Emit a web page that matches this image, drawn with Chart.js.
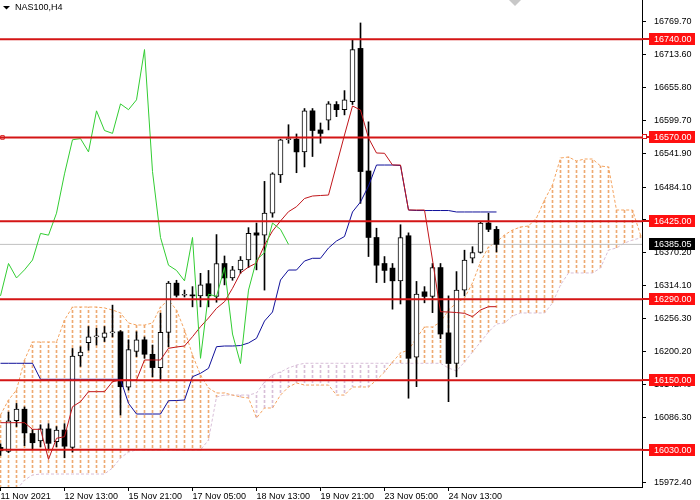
<!DOCTYPE html>
<html>
<head>
<meta charset="utf-8">
<script src="https://cdn.jsdelivr.net/npm/chart.js@4.4.1/dist/chart.umd.min.js"></script>
<style>
  html, body { margin: 0; padding: 0; background: #fff; }
  canvas { display: block; }
</style>
</head>
<body>
<canvas id="chart" width="700" height="500" style="width:700px;height:500px"></canvas>
<script>
// time axis labels, every 8th H4 bar
const xLabels = ["11 Nov 2021", "12 Nov 13:00", "15 Nov 21:00", "17 Nov 05:00",
                 "18 Nov 13:00", "19 Nov 21:00", "23 Nov 05:00", "24 Nov 13:00"];
const xTickBars = [0, 8, 16, 24, 32, 40, 48, 56];

// price axis ticks
const yTicks = [16769.70, 16713.60, 16655.80, 16599.70, 16541.90, 16484.10, 16428.00,
                16370.20, 16314.10, 16256.30, 16200.20, 16142.40, 16086.30, 16028.50, 15972.40];

// horizontal levels and last price
const levels = [16740, 16570, 16425, 16290, 16150, 16030];
const lastPrice = 16385.05;

// NAS100 H4 candles
const opens  = [16034,16027,16080,16100,16058,16045,16066,16044,16064,16034,
                16192,16215,16225,16224,16232,16234,16138,16200,16220,16195,
                16172,16233,16318,16297,16297,16296,16317,16295,16352,16327,
                16341,16358,16405,16401,16439,16505,16566,16567,16545,16616,
                16583,16600,16627,16618,16632,16724,16512,16397,16352,16344,
                16322,16400,16190,16303,16295,16345,16232,16179,16306,16361,
                16371,16422,16411];
const highs  = [16040,16095,16110,16104,16065,16073,16075,16070,16075,16205,
                16208,16243,16240,16243,16280,16236,16220,16234,16225,16211,
                16266,16321,16323,16306,16312,16335,16340,16402,16365,16347,
                16364,16414,16422,16494,16509,16567,16592,16576,16620,16620,
                16595,16632,16632,16651,16738,16768,16597,16413,16364,16352,
                16419,16405,16321,16312,16352,16352,16296,16338,16375,16381,
                16424,16439,16416];
const lows   = [16020,16025,16070,16037,16030,16035,16030,16035,16016,16026,
                16174,16202,16211,16217,16225,16090,16133,16191,16188,16156,
                16150,16208,16294,16294,16277,16277,16277,16285,16315,16323,
                16335,16345,16341,16306,16432,16492,16560,16509,16519,16537,
                16560,16583,16606,16609,16627,16456,16364,16319,16319,16273,
                16282,16119,16139,16284,16267,16222,16113,16156,16296,16353,
                16370,16407,16372];
const closes = [16028,16080,16100,16059,16042,16066,16041,16064,16036,16192,
                16199,16225,16226,16232,16233,16139,16203,16220,16195,16172,
                16233,16318,16297,16298,16296,16315,16296,16352,16327,16341,
                16358,16404,16401,16439,16507,16566,16568,16545,16616,16582,
                16577,16628,16618,16635,16722,16511,16397,16349,16340,16322,
                16397,16188,16299,16295,16345,16230,16179,16306,16358,16371,
                16422,16411,16385.05];

// Ichimoku lines
const tenkan = [16076.7,16076.7,16076.7,16076.7,16065.2,16065.2,16013.3,16049.7,16052.4,16104.3,
                16113.0,16130.3,16130.3,16130.3,16147.6,16150.5,16150.5,16150.5,16185.1,16185.1,
                16185.1,16205.3,16207.6,16209.3,16225.4,16242.7,16257.7,16274.5,16285.9,16309.1,
                16335.6,16345.9,16352.8,16384.0,16408.2,16425.5,16441.6,16450.2,16464.4,16468.7,
                16469.6,16470.4,16522.3,16574.2,16624.4,16617.5,16569.0,16543.1,16542.6,16522.3,
                16522.3,16444.5,16444.5,16444.5,16358.0,16268.6,16268.1,16267.2,16265.8,16260.0,
                16271.6,16277.3,16277.3];
const kijun  = [16179.4,16179.4,16179.4,16179.4,16179.4,16151.7,16151.7,16151.7,16151.7,16151.7,
                16151.7,16151.7,16151.7,16151.7,16151.7,16151.7,16110.2,16091.7,16091.7,16091.7,
                16091.7,16114.7,16115.0,16115.9,16156.2,16162.1,16170.7,16208.1,16209.3,16209.3,
                16210.1,16214.5,16222.6,16252.5,16268.1,16323.4,16340.7,16340.7,16356.3,16361.0,
                16361.0,16378.8,16390.9,16398.7,16441.1,16458.4,16486.0,16522.3,16522.3,16522.3,
                16521.5,16444.5,16443.6,16443.6,16443.6,16443.6,16443.6,16441.1,16441.1,16441.1,
                16441.1,16441.1,16441.1];
const spanA  = [16089.9,16115.9,16133.2,16185.1,16216.2,16216.2,16216.2,16216.2,16254.3,16276.7,
                16276.7,16276.7,16276.7,16275.0,16271.6,16266.4,16249.1,16245.6,16245.6,16249.1,
                16276.7,16288.9,16271.6,16237.0,16193.7,16159.1,16136.7,16128.0,16128.0,16124.5,
                16121.1,16119.4,16084.8,16102.1,16102.1,16124.5,16138.4,16145.3,16141.8,16141.8,
                16141.8,16141.8,16124.5,16124.5,16138.4,16138.4,16138.4,16150.5,16164.3,16181.6,
                16197.2,16202.4,16223.1,16242.2,16242.2,16250.8,16271.6,16283.7,16292.3,16318.3,
                16354.6,16380.5,16389.2,16401.3,16409.9,16415.1,16416.8,16430.7,16461.8,16487.8,
                16534.4,16536.2,16529.2,16532.7,16532.7,16520.6,16518.9,16444.5,16444.5,16444.5,
                16401.3];
const spanB  = [15942.9,15948.1,15960.2,15977.5,15986.2,15987.9,15987.9,15987.9,15987.9,15987.9,
                15987.9,15987.9,15987.9,15987.9,15998.3,16015.6,16026.0,16029.5,16029.5,16029.5,
                16029.5,16029.5,16029.5,16029.5,16029.5,16029.5,16046.7,16121.1,16124.5,16124.5,
                16124.5,16124.5,16128.0,16147.0,16159.1,16164.3,16171.2,16176.4,16179.4,16179.4,
                16179.4,16179.4,16179.4,16179.4,16179.4,16179.4,16179.4,16179.4,16179.4,16179.4,
                16179.4,16179.4,16179.4,16179.4,16179.4,16179.4,16171.2,16166.1,16181.6,16198.9,
                16216.2,16233.5,16247.4,16249.1,16261.2,16266.4,16266.4,16266.4,16266.4,16283.7,
                16314.8,16335.6,16335.6,16335.6,16335.6,16344.2,16375.3,16378.8,16387.4,16392.6,
                16396.1];
const chikouShift = 26;

const X_MIN = -0.0625;          // half a pixel so 1px marks sit on whole pixels
const X_MAX = X_MIN + 642 / 8;  // 8 px per bar
const Y_MIN = 15965.45, Y_MAX = 16807.7;

const LEVEL_RED = '#d41515';
const SANDY = '#f4a460', THISTLE = '#d8bfd8';
const FONT = '"Liberation Sans", Arial, sans-serif';

let canvas = document.getElementById('chart');
let ctx0 = canvas.getContext('2d');

function hatch(color) {
    let c = document.createElement('canvas');
    c.width = 1; c.height = 5;
    let g = c.getContext('2d');
    g.fillStyle = color;
    g.fillRect(0, 0, 1, 3);
    return ctx0.createPattern(c, 'repeat');
}
let sandyHatch = hatch('#eeaa72');
let thistleHatch = hatch(THISTLE);

let up = i => closes[i] >= opens[i];
let pts = arr => arr.map((v, i) => ({ x: i, y: v }));
let flat = v => [{ x: X_MIN, y: v }, { x: X_MAX, y: v }];

let datasets = [];

// horizontal levels on top
levels.forEach(v => {
    datasets.push({ type: 'line', data: flat(v), borderColor: LEVEL_RED, borderWidth: 2,
                    pointRadius: 0, order: 0 });
});

// selection handle at the left end of the 16570 line
datasets.push({ type: 'scatter', data: [{ x: X_MIN + 2.5 / 8, y: 16570 }], pointStyle: 'rect',
                pointRadius: 2.5, backgroundColor: '#fff', borderColor: LEVEL_RED, borderWidth: 1,
                order: 0, clip: false });

datasets.push({ type: 'line', label: 'Chikou', data: pts(closes.slice(chikouShift)),
                borderColor: '#32cd32', borderWidth: 1, pointRadius: 0, order: 1 });
datasets.push({ type: 'line', label: 'Tenkan', data: pts(tenkan),
                borderColor: '#c0161b', borderWidth: 1, pointRadius: 0, order: 1 });
datasets.push({ type: 'line', label: 'Kijun', data: pts(kijun),
                borderColor: '#10109a', borderWidth: 1, pointRadius: 0, order: 1 });

// candle bodies
datasets.push({ type: 'bar', label: 'Body',
                data: opens.map((o, i) => ({ x: i, y: [o, closes[i]] })),
                backgroundColor: c => up(c.dataIndex) ? '#ffffff' : '#000000',
                borderColor: '#000000',
                borderWidth: c => up(c.dataIndex) ? 1 : 0,
                borderSkipped: false, barThickness: 5, minBarLength: 1,
                grouped: false, order: 2 });
// wicks
datasets.push({ type: 'bar', label: 'Wick',
                data: lows.map((l, i) => ({ x: i, y: [l, highs[i]] })),
                backgroundColor: '#000000', borderWidth: 0, barThickness: 1,
                grouped: false, order: 3 });

datasets.push({ type: 'line', label: 'Bid', data: flat(lastPrice), borderColor: '#c0c0c0',
                borderWidth: 1, pointRadius: 0, order: 4 });

datasets.push({ type: 'line', label: 'Span A', data: pts(spanA), borderColor: SANDY,
                borderDash: [3, 2], borderWidth: 1, pointRadius: 0, order: 5 });
datasets.push({ type: 'line', label: 'Span B', data: pts(spanB), borderColor: THISTLE,
                borderDash: [3, 2], borderWidth: 1, pointRadius: 0, order: 5 });

// cloud hatching
datasets.push({ type: 'bar', label: 'Cloud',
                data: spanA.map((a, i) => ({ x: i, y: [a, spanB[i]] })),
                backgroundColor: c => spanA[c.dataIndex] >= spanB[c.dataIndex] ? sandyHatch : thistleHatch,
                borderWidth: 0, barThickness: 1, grouped: false, order: 6 });

// title, axis price labels, markers
let overlay = {
    id: 'overlay',
    afterDraw(chart) {
        let ctx = chart.ctx;
        let ys = chart.scales.y;
        let area = chart.chartArea;
        ctx.save();

        ctx.fillStyle = '#000';
        ctx.beginPath();
        ctx.moveTo(3, 6); ctx.lineTo(10, 6); ctx.lineTo(6.5, 9.5);
        ctx.closePath(); ctx.fill();
        ctx.font = '9px ' + FONT;
        ctx.textBaseline = 'middle';
        ctx.textAlign = 'left';
        ctx.fillText('NAS100,H4', 15, 8);

        // chart shift marker
        ctx.fillStyle = '#c8c8c8';
        ctx.beginPath();
        ctx.moveTo(area.left + 509, 0); ctx.lineTo(area.left + 521, 0); ctx.lineTo(area.left + 515, 6);
        ctx.closePath(); ctx.fill();

        let boxL = area.right + 7;
        levels.forEach(v => {
            let py = Math.round(ys.getPixelForValue(v));
            ctx.fillStyle = LEVEL_RED;
            ctx.fillRect(area.right, py - 1, boxL - area.right, 2);
            ctx.fillStyle = '#ff1010';
            ctx.fillRect(boxL, py - 6, 46, 12);
            ctx.fillStyle = '#fff';
            ctx.fillText(v.toFixed(2), boxL + 5, py + 0.5);
        });

        let pp = Math.round(ys.getPixelForValue(lastPrice));
        ctx.fillStyle = '#000';
        ctx.fillRect(boxL, pp - 6, 46, 12);
        ctx.fillStyle = '#fff';
        ctx.fillText(lastPrice.toFixed(2), boxL + 5, pp + 0.5);

        // right end handle of 16570 line
        let sy = Math.round(ys.getPixelForValue(16570));
        ctx.fillStyle = '#fff';
        ctx.fillRect(area.right + 0.5, sy - 2.5, 4, 4);
        ctx.strokeStyle = LEVEL_RED;
        ctx.lineWidth = 1;
        ctx.strokeRect(area.right + 0.5, sy - 2.5, 4, 4);

        ctx.restore();
    }
};

new Chart(canvas, {
    type: 'bar',
    data: { datasets: datasets },
    options: {
        responsive: false,
        animation: false,
        devicePixelRatio: 1,
        events: [],
        layout: { padding: 0, autoPadding: false },
        plugins: { legend: { display: false }, tooltip: { enabled: false } },
        scales: {
            x: {
                type: 'linear', min: X_MIN, max: X_MAX, offset: false,
                afterBuildTicks: s => { s.ticks = xTickBars.map(v => ({ value: v })); },
                afterFit: s => { s.height = 13; s.paddingLeft = 0; s.paddingRight = 0; },
                ticks: {
                    autoSkip: false, maxRotation: 0, minRotation: 0, align: 'start', padding: 0,
                    color: '#000', font: { family: FONT, size: 9 },
                    callback: (v, i) => xLabels[i]
                },
                grid: { drawOnChartArea: false, offset: false, drawTicks: true, tickLength: 4, tickColor: '#000' },
                border: { display: true, color: '#000', width: 1 }
            },
            y: {
                type: 'linear', position: 'right', min: Y_MIN, max: Y_MAX,
                afterBuildTicks: s => { s.ticks = yTicks.map(v => ({ value: v })); },
                afterFit: s => { s.width = 58; s.paddingTop = 0; s.paddingBottom = 0; },
                ticks: {
                    autoSkip: false, padding: 8, color: '#000', font: { family: FONT, size: 9 },
                    callback: v => v.toFixed(2)
                },
                grid: { drawOnChartArea: false, drawTicks: true, tickLength: 4, tickColor: '#000' },
                border: { display: true, color: '#000', width: 1 }
            }
        }
    },
    plugins: [overlay]
});
</script>
</body>
</html>
